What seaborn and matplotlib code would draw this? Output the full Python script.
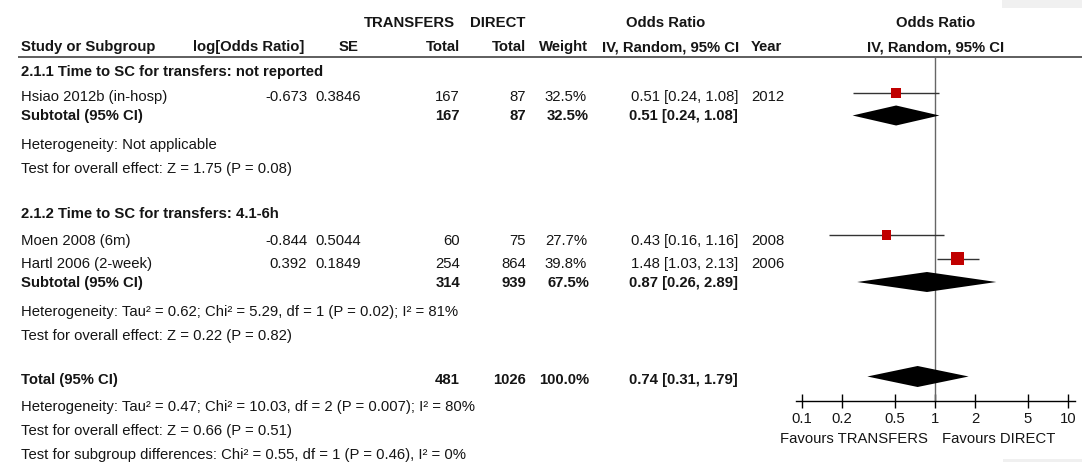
import matplotlib
matplotlib.use("Agg")
import matplotlib.pyplot as plt
import numpy as np
import pandas as pd
import seaborn as sns

# ---- study-level data -------------------------------------------------------
studies = ["Hsiao 2012b (in-hosp)", "Moen 2008 (6m)", "Hartl 2006 (2-week)"]
log_or = [-0.673, -0.844, 0.392]
se = [0.3846, 0.5044, 0.1849]
n_transfers = [167, 60, 254]
n_direct = [87, 75, 864]
weight = [32.5, 27.7, 39.8]
odds_ratio = [0.51, 0.43, 1.48]
ci_low = [0.24, 0.16, 1.03]
ci_high = [1.08, 1.16, 2.13]
year = [2012, 2008, 2006]

# ---- subgroup pooled results -------------------------------------------------
subgroups = ["2.1.1 Time to SC for transfers: not reported",
             "2.1.2 Time to SC for transfers: 4.1-6h"]
sub_transfers = [167, 314]
sub_direct = [87, 939]
sub_weight = [32.5, 67.5]
sub_or = [0.51, 0.87]
sub_low = [0.24, 0.26]
sub_high = [1.08, 2.89]
sub_heterogeneity = ["Heterogeneity: Not applicable",
                     "Heterogeneity: Tau² = 0.62; Chi² = 5.29, df = 1 (P = 0.02); I² = 81%"]
sub_effect = ["Test for overall effect: Z = 1.75 (P = 0.08)",
              "Test for overall effect: Z = 0.22 (P = 0.82)"]

# ---- overall pooled result ---------------------------------------------------
total_transfers = 481
total_direct = 1026
total_weight = 100.0
total_or = 0.74
total_low = 0.31
total_high = 1.79
total_notes = ["Heterogeneity: Tau² = 0.47; Chi² = 10.03, df = 2 (P = 0.007); I² = 80%",
               "Test for overall effect: Z = 0.66 (P = 0.51)",
               "Test for subgroup differences: Chi² = 0.55, df = 1 (P = 0.46), I² = 0%"]

tick_values = [0.1, 0.2, 0.5, 1, 2, 5, 10]
tick_labels = ["0.1", "0.2", "0.5", "1", "2", "5", "10"]
favours = ["Favours TRANSFERS", "Favours DIRECT"]

studies_df = pd.DataFrame({
    "study": studies, "or": odds_ratio, "lo": ci_low, "hi": ci_high,
    "weight": weight,
})

# ---- layout (pixel rows) -----------------------------------------------------
W, H = 1082, 462
sns.set_theme(style="white")
plt.rcParams["font.family"] = ["Liberation Sans", "DejaVu Sans"]
FS = 10.7
TXT = "#151515"

study_text_y = [97, 241, 264]
study_mark_y = [93, 235, 258.5]
sub_title_y = [72, 214]
sub_text_y = [116, 283]
sub_mark_y = [115.5, 282]
sub_het_y = [145, 312]
sub_eff_y = [169, 336]
total_text_y = 380
total_mark_y = 376.5
total_notes_y = [407, 431, 455]

fig = plt.figure(figsize=(W / 100, H / 100), dpi=100)
bg = fig.add_axes([0, 0, 1, 1])
bg.set_xlim(0, W)
bg.set_ylim(H, 0)
bg.axis("off")

# light grey corner patches
bg.add_patch(plt.Rectangle((1002, 0), 80, 8, color="#f0f0f0", lw=0))
bg.add_patch(plt.Rectangle((1003, 459), 79, 3, color="#f0f0f0", lw=0))


def txt(x, y, s, ha="left", bold=False):
    bg.text(x, y, s, ha=ha, va="center", fontsize=FS, color=TXT,
            fontweight="bold" if bold else "normal")


# header
txt(455, 23, "TRANSFERS", "right", True)
txt(525, 23, "DIRECT", "right", True)
txt(666, 23, "Odds Ratio", "center", True)
txt(936, 23, "Odds Ratio", "center", True)
txt(21, 47, "Study or Subgroup", "left", True)
txt(304, 47, "log[Odds Ratio]", "right", True)
txt(349, 47, "SE", "center", True)
txt(460, 47, "Total", "right", True)
txt(526, 47, "Total", "right", True)
txt(588, 47, "Weight", "right", True)
txt(739, 47, "IV, Random, 95% CI", "right", True)
txt(751, 47, "Year", "left", True)
txt(936, 47, "IV, Random, 95% CI", "center", True)
bg.plot([18, W], [57, 57], color="#333333", lw=1.1, solid_capstyle="butt")

# subgroup blocks
members = [[0], [1, 2]]
for g in range(2):
    txt(21, sub_title_y[g], subgroups[g], bold=True)
    for i in members[g]:
        y = study_text_y[i]
        txt(21, y, studies[i])
        txt(307, y, f"{log_or[i]:.3f}", "right")
        txt(315, y, f"{se[i]:.4f}", "left")
        txt(460, y, f"{n_transfers[i]}", "right")
        txt(526, y, f"{n_direct[i]}", "right")
        txt(587, y, f"{weight[i]:.1f}%", "right")
        txt(738, y, f"{odds_ratio[i]:.2f} [{ci_low[i]:.2f}, {ci_high[i]:.2f}]", "right")
        txt(751, y, f"{year[i]}", "left")
    y = sub_text_y[g]
    txt(21, y, "Subtotal (95% CI)", bold=True)
    txt(460, y, f"{sub_transfers[g]}", "right", True)
    txt(526, y, f"{sub_direct[g]}", "right", True)
    txt(589, y, f"{sub_weight[g]:.1f}%", "right", True)
    txt(738, y, f"{sub_or[g]:.2f} [{sub_low[g]:.2f}, {sub_high[g]:.2f}]", "right", True)
    txt(21, sub_het_y[g], sub_heterogeneity[g])
    txt(21, sub_eff_y[g], sub_effect[g])

# overall
txt(21, total_text_y, "Total (95% CI)", bold=True)
txt(460, total_text_y, f"{total_transfers}", "right", True)
txt(526, total_text_y, f"{total_direct}", "right", True)
txt(589, total_text_y, f"{total_weight:.1f}%", "right", True)
txt(738, total_text_y, f"{total_or:.2f} [{total_low:.2f}, {total_high:.2f}]", "right", True)
for s, y in zip(total_notes, total_notes_y):
    txt(21, y, s)

# ---- forest panel ------------------------------------------------------------
PX_DEC = 133.0
X_ONE = 935.0
AX_L, AX_R = 780, W
ax = fig.add_axes([AX_L / W, 0, (AX_R - AX_L) / W, 1])
ax.set_facecolor("none")
ax.set_xscale("log")
ax.set_xlim(10 ** ((AX_L - X_ONE) / PX_DEC), 10 ** ((AX_R - X_ONE) / PX_DEC))
ax.set_ylim(H, 0)

# line of no effect
ax.vlines(1, 57, 401, color="#666666", lw=1.0, zorder=1)

# study confidence intervals and weighted squares
studies_df["y"] = study_mark_y
ax.hlines(studies_df["y"], studies_df["lo"], studies_df["hi"],
          color="#333333", lw=1.0, zorder=2)
size_map = {w: (w * 0.325 * 0.72) ** 2 for w in weight}
sns.scatterplot(data=studies_df, x="or", y="y", size="weight", sizes=size_map,
                marker="s", color="#c00000", linewidth=0, legend=False,
                ax=ax, zorder=3)


def diamond(est, lo, hi, y, h=20):
    ax.fill([lo, est, hi, est], [y, y - h / 2, y, y + h / 2],
            color="black", lw=0, zorder=3)


for g in range(2):
    diamond(sub_or[g], sub_low[g], sub_high[g], sub_mark_y[g])
diamond(total_or, total_low, total_high, total_mark_y, 21)

# axis
for side in ["left", "right", "top"]:
    ax.spines[side].set_visible(False)
ax.spines["bottom"].set_position(("data", 401))
ax.spines["bottom"].set_bounds(10 ** ((796 - X_ONE) / PX_DEC), 10 ** ((1075 - X_ONE) / PX_DEC))
ax.spines["bottom"].set_color("black")
ax.spines["bottom"].set_linewidth(1.0)
ax.set_xticks(tick_values)
ax.set_xticklabels(tick_labels)
ax.xaxis.set_minor_locator(matplotlib.ticker.NullLocator())
ax.tick_params(axis="x", direction="inout", length=9.4, width=1.0, pad=3,
               labelsize=FS, colors="black", labelcolor=TXT, bottom=True)
ax.set_yticks([])
ax.set_xlabel("")
ax.set_ylabel("")

txt(928, 439, favours[0], "right")
txt(942, 439, favours[1], "left")

fig.savefig("out.png", dpi=100)
